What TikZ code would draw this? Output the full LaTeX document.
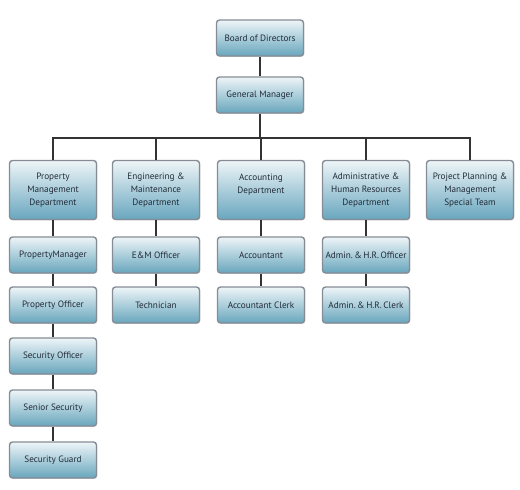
\documentclass[tikz,border=0pt]{standalone}
\usepackage{fontspec}
\setmainfont{PT Sans}
\usetikzlibrary{shadows}
\definecolor{boxtop}{HTML}{EEF5F8}
\definecolor{boxbot}{HTML}{68A6BD}
\definecolor{boxborder}{HTML}{868C96}
\definecolor{txt}{HTML}{222C38}
\definecolor{linec}{HTML}{333333}
\tikzset{
  box/.style={draw=boxborder, line width=1.4pt, rounded corners=3pt,
    top color=boxtop, bottom color=boxbot, minimum width=87pt, minimum height=36pt,
    align=center, text=txt, font=\fontsize{9.2}{12.8}\selectfont, inner sep=1pt,
    drop shadow={shadow xshift=0.8pt, shadow yshift=-0.8pt, opacity=0.35}},
  dept/.style={box, minimum height=59pt},
  conn/.style={draw=linec, line width=1.3pt}
}
\begin{document}
\begin{tikzpicture}[x=1pt, y=-1pt]
\useasboundingbox (0,0) rectangle (520,490);
\node[box] (bod) at (260,38) {Board of Directors};
\node[box] (gm) at (260,95) {General Manager};
\node[dept] (d1) at (53,190) {Property\\Management\\Department};
\node[dept] (d2) at (156,190) {Engineering \&\\Maintenance\\Department};
\node[dept] (d3) at (261,190) {Accounting\\Department\\\mbox{}};
\node[dept] (d4) at (366,190) {Administrative \&\\Human Resources\\Department};
\node[dept] (d5) at (470,190) {Project Planning \&\\Management\\Special Team};
\node[box] (p1) at (53,255) {PropertyManager};
\node[box] (p2) at (53,305) {Property Officer};
\node[box] (p3) at (53,356) {Security Officer};
\node[box] (p4) at (53,408) {Senior Security};
\node[box] (p5) at (53,460) {Security Guard};
\node[box] (e1) at (156,255) {E\&M Officer};
\node[box] (e2) at (156,305) {Technician};
\node[box] (a1) at (261,255) {Accountant};
\node[box] (a2) at (261,305) {Accountant Clerk};
\node[box] (h1) at (366,255) {Admin.\,\&\,H.R.\,Officer};
\node[box] (h2) at (366,305) {Admin.\,\&\,H.R.\,Clerk};
\coordinate (bar) at (260,138);
\draw[conn] (bod) -- (gm);
\draw[conn] (gm.south) -- (bar);
\draw[conn] (d1.north) |- (bar) -| (d5.north);
\draw[conn] (d2.north) -- (d2.north |- bar);
\draw[conn] (d3.north) -- (d3.north |- bar);
\draw[conn] (d4.north) -- (d4.north |- bar);
\draw[conn] (d1) -- (p1);
\draw[conn] (p1) -- (p2);
\draw[conn] (p2) -- (p3);
\draw[conn] (p3) -- (p4);
\draw[conn] (p4) -- (p5);
\draw[conn] (d2) -- (e1);
\draw[conn] (e1) -- (e2);
\draw[conn] (d3) -- (a1);
\draw[conn] (a1) -- (a2);
\draw[conn] (d4) -- (h1);
\draw[conn] (h1) -- (h2);
\end{tikzpicture}
\end{document}
